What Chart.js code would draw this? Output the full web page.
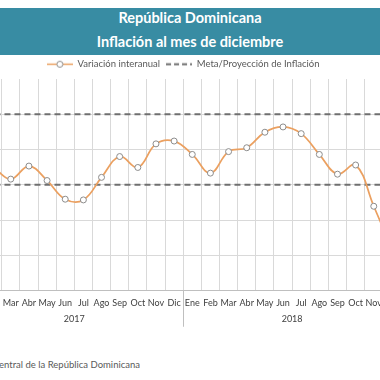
<!DOCTYPE html>
<html>
<head>
<meta charset="utf-8">
<script src="https://cdn.jsdelivr.net/npm/chart.js@4.4.1/dist/chart.umd.min.js"></script>
<style>
  html, body { margin: 0; padding: 0; background: #fff; }
  #page { position: relative; width: 380px; height: 380px; overflow: hidden; background: #fff; font-family: Lato, "Open Sans", sans-serif; }
  #band { position: absolute; left: 0; top: 8px; width: 380px; height: 47px; background: #388ca3; color: #fff; font-weight: bold; font-size: 14.5px; text-align: center; }
  #band div { position: absolute; left: 0; width: 380px; }
  #wrap { position: absolute; left: -60px; top: 50px; width: 480px; height: 286px; }
  #source { position: absolute; right: 240px; top: 359px; white-space: nowrap; font-size: 9.5px; color: #595959; }
</style>
</head>
<body>
<div id="page">
  <div id="band">
    <div style="top:1px">República Dominicana</div>
    <div style="top:25px">Inflación al mes de diciembre</div>
  </div>
  <div id="wrap"><canvas id="c"></canvas></div>
  <div id="source">Fuente: Banco Central de la República Dominicana</div>
</div>
<script>
const months = ["Ene","Feb","Mar","Abr","May","Jun","Jul","Ago","Sep","Oct","Nov","Dic"];
const years = ["2017", "2018"];
const categories = [...months, ...months];
const inflation = [3.30, 3.45, 3.16, 3.53, 3.12, 2.59, 2.57, 3.21, 3.80, 3.49, 4.16, 4.24,
                   3.86, 3.33, 3.94, 4.05, 4.49, 4.64, 4.45, 3.86, 3.30, 3.56, 2.39, 1.17];
const targetUpper = categories.map(() => 5);
const targetLower = categories.map(() => 3);
const yTicks = { min: 0, max: 6, step: 1 };

const lineColor = '#eba060';
const markerColor = '#8c8c8c';
const dashColor = '#6f6f6f';
const fontFam = 'Lato, "Open Sans", sans-serif';

function makeIcon(kind) {
  const cv = document.createElement('canvas');
  cv.width = 26; cv.height = 9;
  const g = cv.getContext('2d');
  g.lineWidth = kind === 'line' ? 1.5 : 2;
  if (kind === 'line') {
    g.strokeStyle = lineColor;
    g.beginPath(); g.moveTo(0, 4.5); g.lineTo(26, 4.5); g.stroke();
    g.beginPath(); g.arc(13, 4.5, 3, 0, Math.PI * 2);
    g.fillStyle = '#fff'; g.fill();
    g.lineWidth = 1; g.strokeStyle = markerColor; g.stroke();
  } else {
    g.strokeStyle = dashColor;
    g.setLineDash([5, 3]);
    g.beginPath(); g.moveTo(0, 4.5); g.lineTo(26, 4.5); g.stroke();
  }
  return cv;
}
const iconLine = makeIcon('line');
const iconDash = makeIcon('dash');

const yearPlugin = {
  id: 'yearGroups',
  afterDraw(chart) {
    const x = chart.scales.x;
    const area = chart.chartArea;
    const ctx = chart.ctx;
    ctx.save();
    ctx.strokeStyle = '#bfbfbf';
    ctx.lineWidth = 1;
    ctx.fillStyle = '#404040';
    ctx.font = '9px ' + fontFam;
    ctx.textAlign = 'center';
    ctx.textBaseline = 'middle';
    const half = (x.getPixelForValue(1) - x.getPixelForValue(0)) / 2;
    years.forEach((yr, i) => {
      const first = i * months.length;
      const last = first + months.length - 1;
      const p0 = x.getPixelForValue(first);
      const p1 = x.getPixelForValue(last);
      ctx.fillText(yr, (p0 + p1) / 2, area.bottom + 28.5);
      [p0 - half, p1 + half].forEach(b => {
        const bx = Math.round(b) + 0.5;
        ctx.beginPath(); ctx.moveTo(bx, area.bottom); ctx.lineTo(bx, area.bottom + 36); ctx.stroke();
      });
    });
    ctx.restore();
  }
};

new Chart(document.getElementById('c'), {
  type: 'line',
  data: {
    labels: categories,
    datasets: [
      {
        label: 'Variación interanual',
        data: inflation,
        borderColor: lineColor,
        borderWidth: 1.75,
        tension: 0.4,
        pointRadius: 3,
        pointBorderWidth: 1,
        pointBorderColor: markerColor,
        pointBackgroundColor: '#ffffff',
        order: 0
      },
      {
        label: 'Meta/Proyección de Inflación',
        data: targetUpper,
        borderColor: dashColor,
        borderWidth: 2,
        borderDash: [6, 4],
        pointRadius: 0,
        order: 1
      },
      {
        label: 'meta_inferior',
        data: targetLower,
        borderColor: dashColor,
        borderWidth: 2,
        borderDash: [6, 4],
        pointRadius: 0,
        order: 1
      }
    ]
  },
  options: {
    responsive: true,
    maintainAspectRatio: false,
    animation: false,
    layout: { padding: { left: 25.4, right: 19, top: 3.5, bottom: 0 } },
    plugins: {
      tooltip: { enabled: false },
      legend: {
        position: 'top',
        labels: {
          usePointStyle: true,
          pointStyleWidth: 26,
          padding: 6,
          font: { size: 9.5, family: fontFam },
          color: '#595959',
          generateLabels(chart) {
            return [
              { text: 'Variación interanual', pointStyle: iconLine, fillStyle: 'transparent', strokeStyle: 'transparent', lineWidth: 0, fontColor: '#595959', datasetIndex: 0 },
              { text: 'Meta/Proyección de Inflación', pointStyle: iconDash, fillStyle: 'transparent', strokeStyle: 'transparent', lineWidth: 0, fontColor: '#595959', datasetIndex: 1 }
            ];
          }
        }
      }
    },
    scales: {
      x: {
        offset: true,
        grid: { offset: true, color: '#d9d9d9', drawTicks: false },
        border: { color: '#bfbfbf' },
        ticks: { autoSkip: false, maxRotation: 0, padding: 7, color: '#404040', font: { size: 9, family: fontFam } },
        afterFit(scale) { scale.height = 45.5; }
      },
      y: {
        min: yTicks.min,
        max: yTicks.max,
        ticks: { stepSize: yTicks.step, display: false },
        grid: { drawTicks: false, color: c => (c.tick && c.tick.value === yTicks.max) ? 'rgba(0,0,0,0)' : '#d9d9d9' },
        border: { display: false },
        afterFit(scale) { scale.width = 0; }
      }
    }
  },
  plugins: [yearPlugin]
});
</script>
</body>
</html>
